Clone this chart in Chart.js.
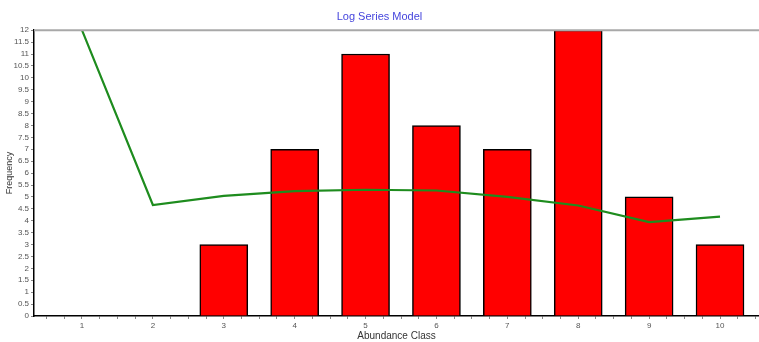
<!DOCTYPE html>
<html>
<head>
<meta charset="utf-8">
<script src="https://cdn.jsdelivr.net/npm/chart.js@4/dist/chart.umd.min.js"></script>
<style>
  body { margin: 0; background: #fff; }
</style>
</head>
<body>
<canvas id="chart" width="759" height="342"></canvas>
<script>
const classes = [1, 2, 3, 4, 5, 6, 7, 8, 9, 10];
const observed = [0, 0, 3, 7, 11, 8, 7, 12, 5, 3];
const expected = [12, 4.66, 5.04, 5.24, 5.3, 5.27, 5.0, 4.64, 3.94, 4.17];

// top grey frame line
const topLine = {
    id: 'topLine',
    afterDraw(chart) {
        const ctx = chart.ctx;
        const a = chart.chartArea;
        ctx.save();
        ctx.strokeStyle = '#a8a8a8';
        ctx.lineWidth = 2;
        ctx.beginPath();
        ctx.moveTo(a.left, a.top);
        ctx.lineTo(chart.width, a.top);
        ctx.stroke();
        ctx.restore();
    }
};

new Chart(document.getElementById('chart').getContext('2d'), {
    type: 'bar',
    data: {
        datasets: [
            {
                type: 'line',
                data: classes.map((c, i) => ({ x: c, y: expected[i] })),
                borderColor: '#1e8c1e',
                borderWidth: 2.2,
                pointRadius: 0,
                tension: 0,
                order: 0
            },
            {
                data: classes.map((c, i) => ({ x: c, y: observed[i] })),
                backgroundColor: '#ff0000',
                borderColor: '#000',
                borderWidth: 1.5,
                barThickness: 48,
                order: 1
            }
        ]
    },
    options: {
        responsive: false,
        animation: false,
        plugins: {
            legend: { display: false },
            tooltip: { enabled: false },
            title: {
                display: true,
                text: 'Log Series Model',
                color: '#4545dd',
                font: { family: 'Arial, Liberation Sans', size: 11, weight: 'normal' },
                padding: { top: 10, bottom: 7 }
            }
        },
        scales: {
            x: {
                type: 'linear',
                offset: false,
                min: 0.323,
                max: 10.55,
                afterFit: (s) => { s.height = 26; },
                border: { color: '#000', width: 1.5 },
                grid: { offset: false, drawOnChartArea: false, drawTicks: true, tickLength: 3, color: '#888' },
                ticks: {
                    stepSize: 0.25,
                    includeBounds: false,
                    autoSkip: false,
                    maxRotation: 0,
                    padding: 2,
                    color: '#555',
                    font: { family: 'Arial, Liberation Sans', size: 8 },
                    callback: (v) => Number.isInteger(v) ? v : ''
                },
                title: {
                    display: true,
                    text: 'Abundance Class',
                    color: '#333',
                    font: { family: 'Arial, Liberation Sans', size: 10 },
                    padding: { top: 0, bottom: 0 }
                }
            },
            y: {
                min: 0,
                max: 12,
                afterFit: (s) => { s.width = 34; },
                border: { color: '#000', width: 1.5 },
                grid: { drawOnChartArea: false, drawTicks: true, tickLength: 3, color: '#888' },
                ticks: {
                    stepSize: 0.5,
                    autoSkip: false,
                    padding: 2,
                    color: '#555',
                    font: { family: 'Arial, Liberation Sans', size: 8 },
                    callback: (v) => String(v)
                },
                title: {
                    display: true,
                    text: 'Frequency',
                    color: '#333',
                    font: { family: 'Arial, Liberation Sans', size: 9 },
                    padding: { top: 4, bottom: 0 }
                }
            }
        }
    },
    plugins: [topLine]
});
</script>
</body>
</html>
